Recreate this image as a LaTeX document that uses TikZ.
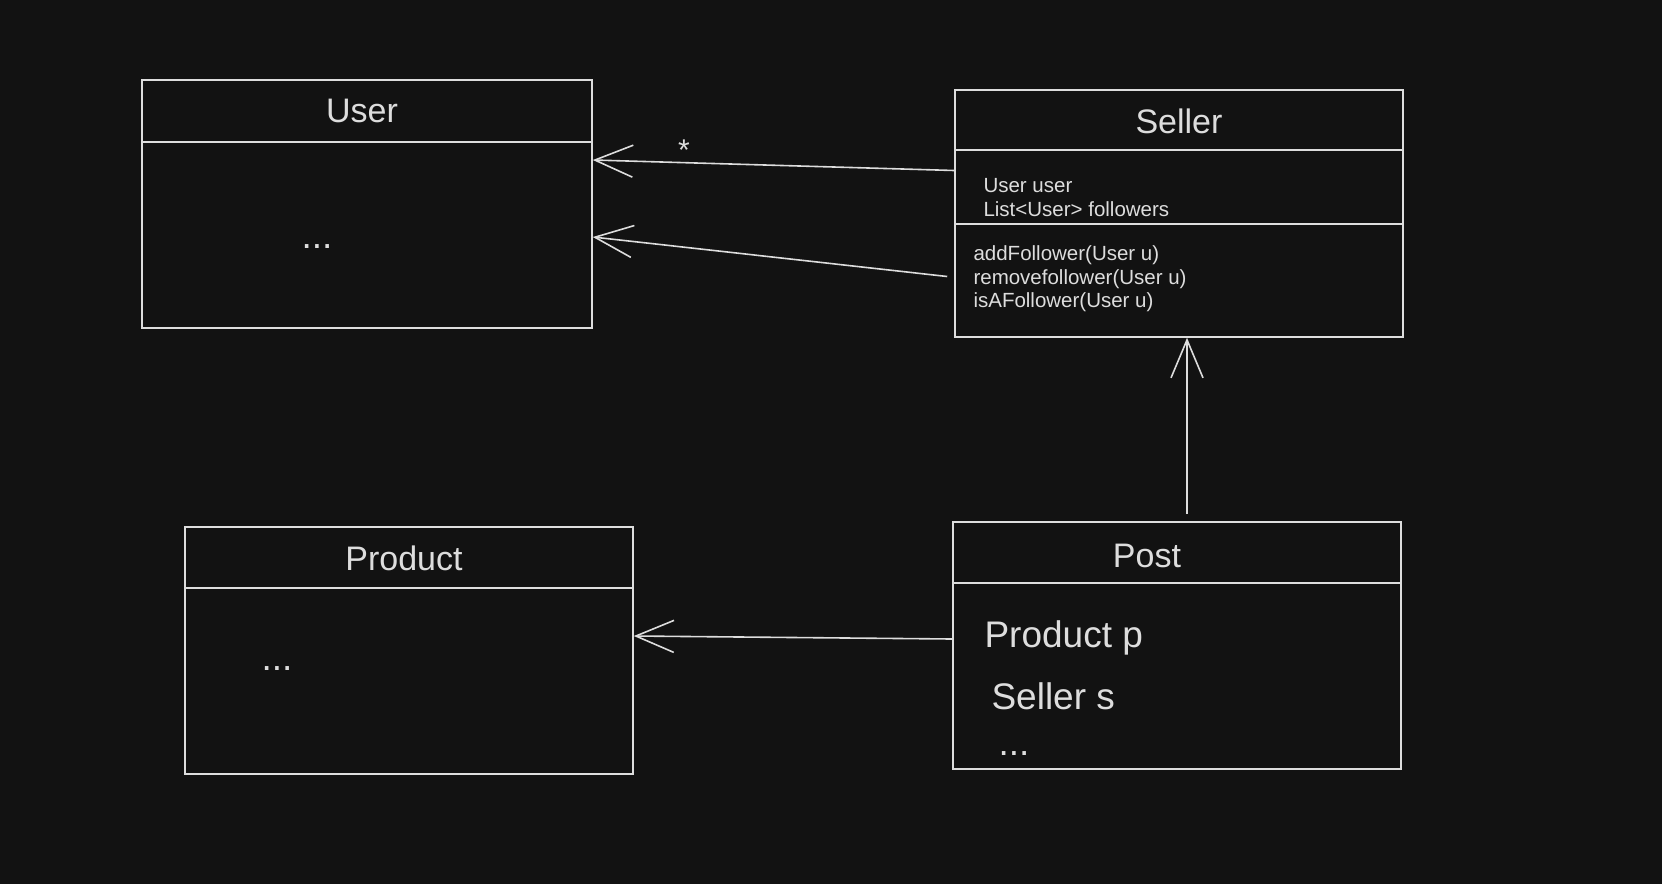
\documentclass[tikz,border=0pt]{standalone}
\usepackage{fontspec}
\setmainfont{Liberation Sans}
\usetikzlibrary{arrows.meta}
\definecolor{bgc}{HTML}{121212}
\definecolor{ink}{HTML}{DDDDDD}
\begin{document}
\begin{tikzpicture}[x=1pt,y=-1pt,
  classbox/.style={draw=ink, line width=1.6pt, minimum width=450pt, minimum height=248pt, inner sep=0pt},
  divider/.style={draw=ink, line width=1.6pt},
  title/.style={text=ink, anchor=base, font=\fontsize{34}{40}\selectfont},
  small/.style={text=ink, anchor=base west, font=\fontsize{20.5}{24}\selectfont},
  big/.style={text=ink, anchor=base west, font=\fontsize{37}{42}\selectfont},
  arr/.style={draw=ink, line width=1.6pt, -{Straight Barb[length=38pt,width=32pt]}}]
\fill[bgc] (0,0) rectangle (1662,884);
\useasboundingbox (0,0) rectangle (1662,884);
% boxes
\node[classbox] (user) at (367,204) {};
\node[classbox, minimum width=448pt, minimum height=247pt] (seller) at (1179,213.5) {};
\node[classbox, minimum width=448pt, minimum height=247pt] (product) at (409,650.5) {};
\node[classbox, minimum width=448pt, minimum height=247pt] (post) at (1177,645.5) {};
% dividers
\draw[divider] ([yshift=-63pt]user.north west) -- ([yshift=-63pt]user.north east);
\draw[divider] ([yshift=-61pt]seller.north west) -- ([yshift=-61pt]seller.north east);
\draw[divider] ([yshift=-135pt]seller.north west) -- ([yshift=-135pt]seller.north east);
\draw[divider] ([yshift=-62pt]product.north west) -- ([yshift=-62pt]product.north east);
\draw[divider] ([yshift=-62pt]post.north west) -- ([yshift=-62pt]post.north east);
% texts
\node[title] (usert) at (362,122) {User};
\node[big] (userdots) at (298,248) {...};
\node[title] (sellert) at (1179,133) {Seller};
\node[small] (sa1) at (980,192) {User user};
\node[small] (sa2) at (980,216) {List<User> followers};
\node[small] (sm1) at (970,260) {addFollower(User u)};
\node[small] (sm2) at (970,284) {removefollower(User u)};
\node[small] (sm3) at (970,307) {isAFollower(User u)};
\node[title] (productt) at (404,570) {Product};
\node[big] (productdots) at (258,670) {...};
\node[title] (postt) at (1147,567) {Post};
\node[big] (pa1) at (981,647) {Product p};
\node[big] (pa2) at (988,709) {Seller s};
\node[big] (pa3) at (995,755) {...};
\node[text=ink, font=\fontsize{30}{30}\selectfont] (star) at (684,150) {*};
% connectors
\draw[arr] ([yshift=43pt]seller.west) -- ([yshift=44pt]user.east);
\draw[arr] ([xshift=-7pt,yshift=-63pt]seller.west) -- ([yshift=-33pt]user.east);
\draw[arr] ([xshift=10pt,yshift=7pt]post.north) -- ([xshift=8pt]seller.south);
\draw[arr] ([yshift=6.5pt]post.west) -- ([yshift=14.5pt]product.east);
\end{tikzpicture}
\end{document}
